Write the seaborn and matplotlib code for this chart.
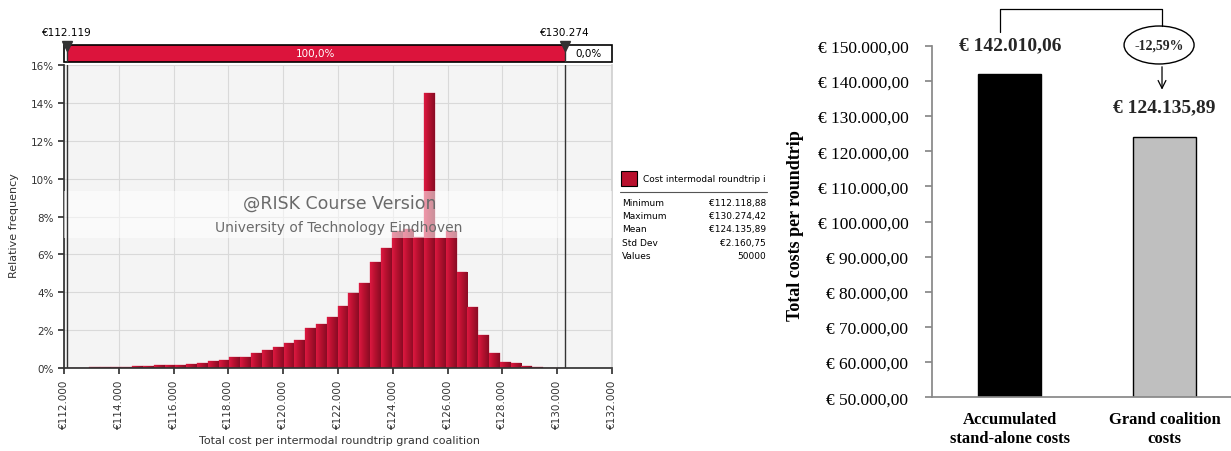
import numpy as np
import pandas as pd
import seaborn as sns
import matplotlib.pyplot as plt
from matplotlib.colors import LinearSegmentedColormap
from matplotlib.patches import Ellipse, Rectangle
from matplotlib.ticker import FuncFormatter, MultipleLocator

sns.set_theme(style='white')
plt.rcParams['font.family'] = ['DejaVu Sans']

## @RISK simulation output (grand coalition)
sim_min = 112118.88
sim_max = 130274.42
sim_mean = 124135.89
sim_std = 2160.75
n_values = 50000
# relative frequency per bin (%), 46 bins between min and max
freq = [0.04, 0.04, 0.05, 0.05, 0.06, 0.06, 0.10, 0.11, 0.17, 0.17,
        0.18, 0.23, 0.30, 0.41, 0.42, 0.57, 0.58, 0.81, 0.94, 1.11,
        1.33, 1.50, 2.14, 2.31, 2.70, 3.28, 3.99, 4.51, 5.60, 6.34,
        7.25, 7.34, 6.92, 14.50, 6.87, 7.25, 5.09, 3.23, 1.74, 0.81,
        0.35, 0.28, 0.14, 0.07, 0.03, 0.02]

## Bar chart
cats = ['Accumulated\nstand-alone costs', 'Grand coalition\ncosts']
costs = [142010.06, 124135.89]
saving = '-12,59%'


def eur(v, dec=2):
    s = f"{v:,.{dec}f}"
    return s.replace(',', 'X').replace('.', ',').replace('X', '.')


W, H = 1231, 452
fig = plt.figure(figsize=(W / 100, H / 100), dpi=100)


def fx(px):
    return px / W


def fy(py):
    return 1 - py / H


red = '#b8102d'
dark = '#333333'

## Histogram
ax = fig.add_axes([fx(64), fy(369.3), fx(612 - 64), (369.3 - 65.7) / H])
ax.set_facecolor('#f4f4f4')
edges = np.linspace(sim_min, sim_max, len(freq) + 1)
df = pd.DataFrame({'cost': (edges[:-1] + edges[1:]) / 2, 'freq': freq})
sns.histplot(data=df, x='cost', weights='freq', bins=len(freq),
             binrange=(sim_min, sim_max), ax=ax, color=red, alpha=1,
             edgecolor='#d84a64', linewidth=0.3, zorder=2)

# @RISK style shading on each bar (bright left, dark right)
grad = LinearSegmentedColormap.from_list('rk', ['#dc1840', '#b3102e', '#8a0b24'])
shade = np.linspace(0, 1, 32).reshape(1, -1)
for p in list(ax.patches):
    x0, y0 = p.get_x(), p.get_y()
    w, h = p.get_width(), p.get_height()
    im = ax.imshow(shade, cmap=grad, extent=[x0, x0 + w, y0, y0 + h], aspect='auto',
                   zorder=2.1, interpolation='bilinear')
    im.set_clip_path(p)

ax.set_xlim(112000, 132000)
ax.set_ylim(0, 16)
ax.xaxis.set_major_locator(MultipleLocator(2000))
ax.yaxis.set_major_locator(MultipleLocator(2))
ax.xaxis.set_major_formatter(FuncFormatter(lambda v, p: '€' + eur(v, 0)))
ax.yaxis.set_major_formatter(FuncFormatter(lambda v, p: f'{v:.0f}%'))
ax.grid(True, color='#d9d9d9', lw=0.8, zorder=0)
ax.set_axisbelow(True)
ax.tick_params(axis='x', labelrotation=90, labelsize=7.5, length=4, colors=dark,
               direction='out', bottom=True)
ax.tick_params(axis='y', labelsize=7.5, length=4, colors=dark, direction='out', left=True)
for s in ['left', 'bottom']:
    ax.spines[s].set_color(dark)
ax.spines['top'].set_visible(False)
ax.spines['right'].set_color('#d0d0d0')
ax.set_ylabel('Relative frequency', fontsize=8, color=dark)
ax.yaxis.set_label_coords(-0.082, 0.475)
ax.set_xlabel('Total cost per intermodal roundtrip grand coalition', fontsize=8, color=dark)
ax.xaxis.set_label_coords(0.502, -0.22)
ax.axvline(sim_min, color=dark, lw=1, zorder=4)
ax.axvline(sim_max, color=dark, lw=1, zorder=4)

# watermark
ax.axhspan(6.87, 9.35, color='white', alpha=0.55, lw=0, zorder=3)
ax.text(0.504, 0.544, '@RISK Course Version', transform=ax.transAxes, ha='center',
        va='center', fontsize=12.5, color='#6a6a6a', zorder=5)
ax.text(0.502, 0.465, 'University of Technology Eindhoven', transform=ax.transAxes,
        ha='center', va='center', fontsize=10, color='#6a6a6a', zorder=5)

# delimiter band on top
band = fig.add_axes([fx(64), fy(63), fx(612 - 64), 17 / H])
band.set_xlim(112000, 132000)
band.set_ylim(0, 1)
band.axis('off')
band.add_patch(Rectangle((sim_min, 0), sim_max - sim_min, 1, color='#dc143c', lw=0))
band.add_patch(Rectangle((112000, 0), 20000, 1, fill=False, ec='black', lw=1.2,
                         clip_on=False))
band.axvline(sim_min, color=dark, lw=1)
band.axvline(sim_max, color=dark, lw=1)
band.text((sim_min + sim_max) / 2, 0.5, '100,0%', ha='center', va='center',
          fontsize=7.5, color='white')
band.text((sim_max + 132000) / 2, 0.5, '0,0%', ha='center', va='center',
          fontsize=7.5, color='black')
for v in [sim_min, sim_max]:
    band.plot([v], [0.95], marker='v', ms=7, color=dark, clip_on=False)
    band.text(v, 1.75, '€' + eur(v / 1000, 3).replace(',', '.'), ha='center',
              va='center', fontsize=7.5, color='black')

# legend / statistics box
fig.patches.append(Rectangle((fx(621), fy(187)), fx(16), 15 / H, transform=fig.transFigure,
                             fc=red, ec='black', lw=0.8))
fig.text(fx(643), fy(180), 'Cost intermodal roundtrip i', fontsize=6.5, va='center',
         color='black')
fig.lines.append(plt.Line2D([fx(620), fx(767)], [fy(193), fy(193)],
                            transform=fig.transFigure, color='#555555', lw=0.8))
stats = [('Minimum', '€' + eur(sim_min)), ('Maximum', '€' + eur(sim_max)),
         ('Mean', '€' + eur(sim_mean)), ('Std Dev', '€' + eur(sim_std)),
         ('Values', str(n_values))]
for i, (k, v) in enumerate(stats):
    yy = fy(203.3 + i * 13.3)
    fig.text(fx(622), yy, k, fontsize=6.5, va='center', color='black')
    fig.text(fx(766), yy, v, fontsize=6.5, va='center', ha='right', color='black')

## Bar chart right
serif = ['Liberation Serif', 'DejaVu Serif']
ax2 = fig.add_axes([fx(932), fy(398.3), fx(W - 932), (398.3 - 46.7) / H])
sns.barplot(x=cats, y=costs, hue=cats, palette=['black', '#bfbfbf'], edgecolor='black',
            linewidth=1, width=0.406, legend=False, ax=ax2)
ax2.set_xlim(-0.503, 1.43)
ax2.set_ylim(50000, 150000)
ax2.yaxis.set_major_locator(MultipleLocator(10000))
ax2.yaxis.set_major_formatter(FuncFormatter(lambda v, p: '€ ' + eur(v)))
for s in ['top', 'right']:
    ax2.spines[s].set_visible(False)
for s in ['left', 'bottom']:
    ax2.spines[s].set_color('#888888')
ax2.tick_params(axis='y', left=True, length=5, color='#888888', labelsize=12.5,
                labelcolor='black', pad=12)
ax2.tick_params(axis='x', bottom=False, labelsize=12, labelcolor='black', pad=4)
for t in ax2.get_yticklabels():
    t.set_family(serif)
for t in ax2.get_xticklabels():
    t.set_family(serif)
    t.set_fontweight('bold')
ax2.set_ylabel('Total costs per roundtrip', fontsize=13, fontweight='bold',
               family=serif, color='black')
ax2.yaxis.set_label_coords(-0.428, 0.49)
ax2.set_xlabel('')

ax2.text(0, 150200, '€ ' + eur(costs[0]), ha='center', va='center', fontsize=14,
         fontweight='bold', family=serif, clip_on=False)
ax2.text(1.0, 132560, '€ ' + eur(costs[1]), ha='center', va='center', fontsize=14,
         fontweight='bold', family=serif, clip_on=False)
ax2.add_patch(Ellipse((0.965, 150200), 0.4526, 10800, fill=False, ec='black', lw=1,
                      clip_on=False))
ax2.text(0.965, 150200, saving, ha='center', va='center', fontsize=10, fontweight='bold',
         family=serif, clip_on=False)
ax2.plot([-0.063, -0.063, 0.984, 0.984], [153900, 160400, 160400, 155600], color='black',
         lw=0.9, clip_on=False)
ax2.annotate('', xy=(0.984, 136700), xytext=(0.984, 144800),
             arrowprops=dict(arrowstyle='->', color='black', lw=0.9, mutation_scale=14),
             annotation_clip=False)

plt.savefig('out.png', dpi=100)
